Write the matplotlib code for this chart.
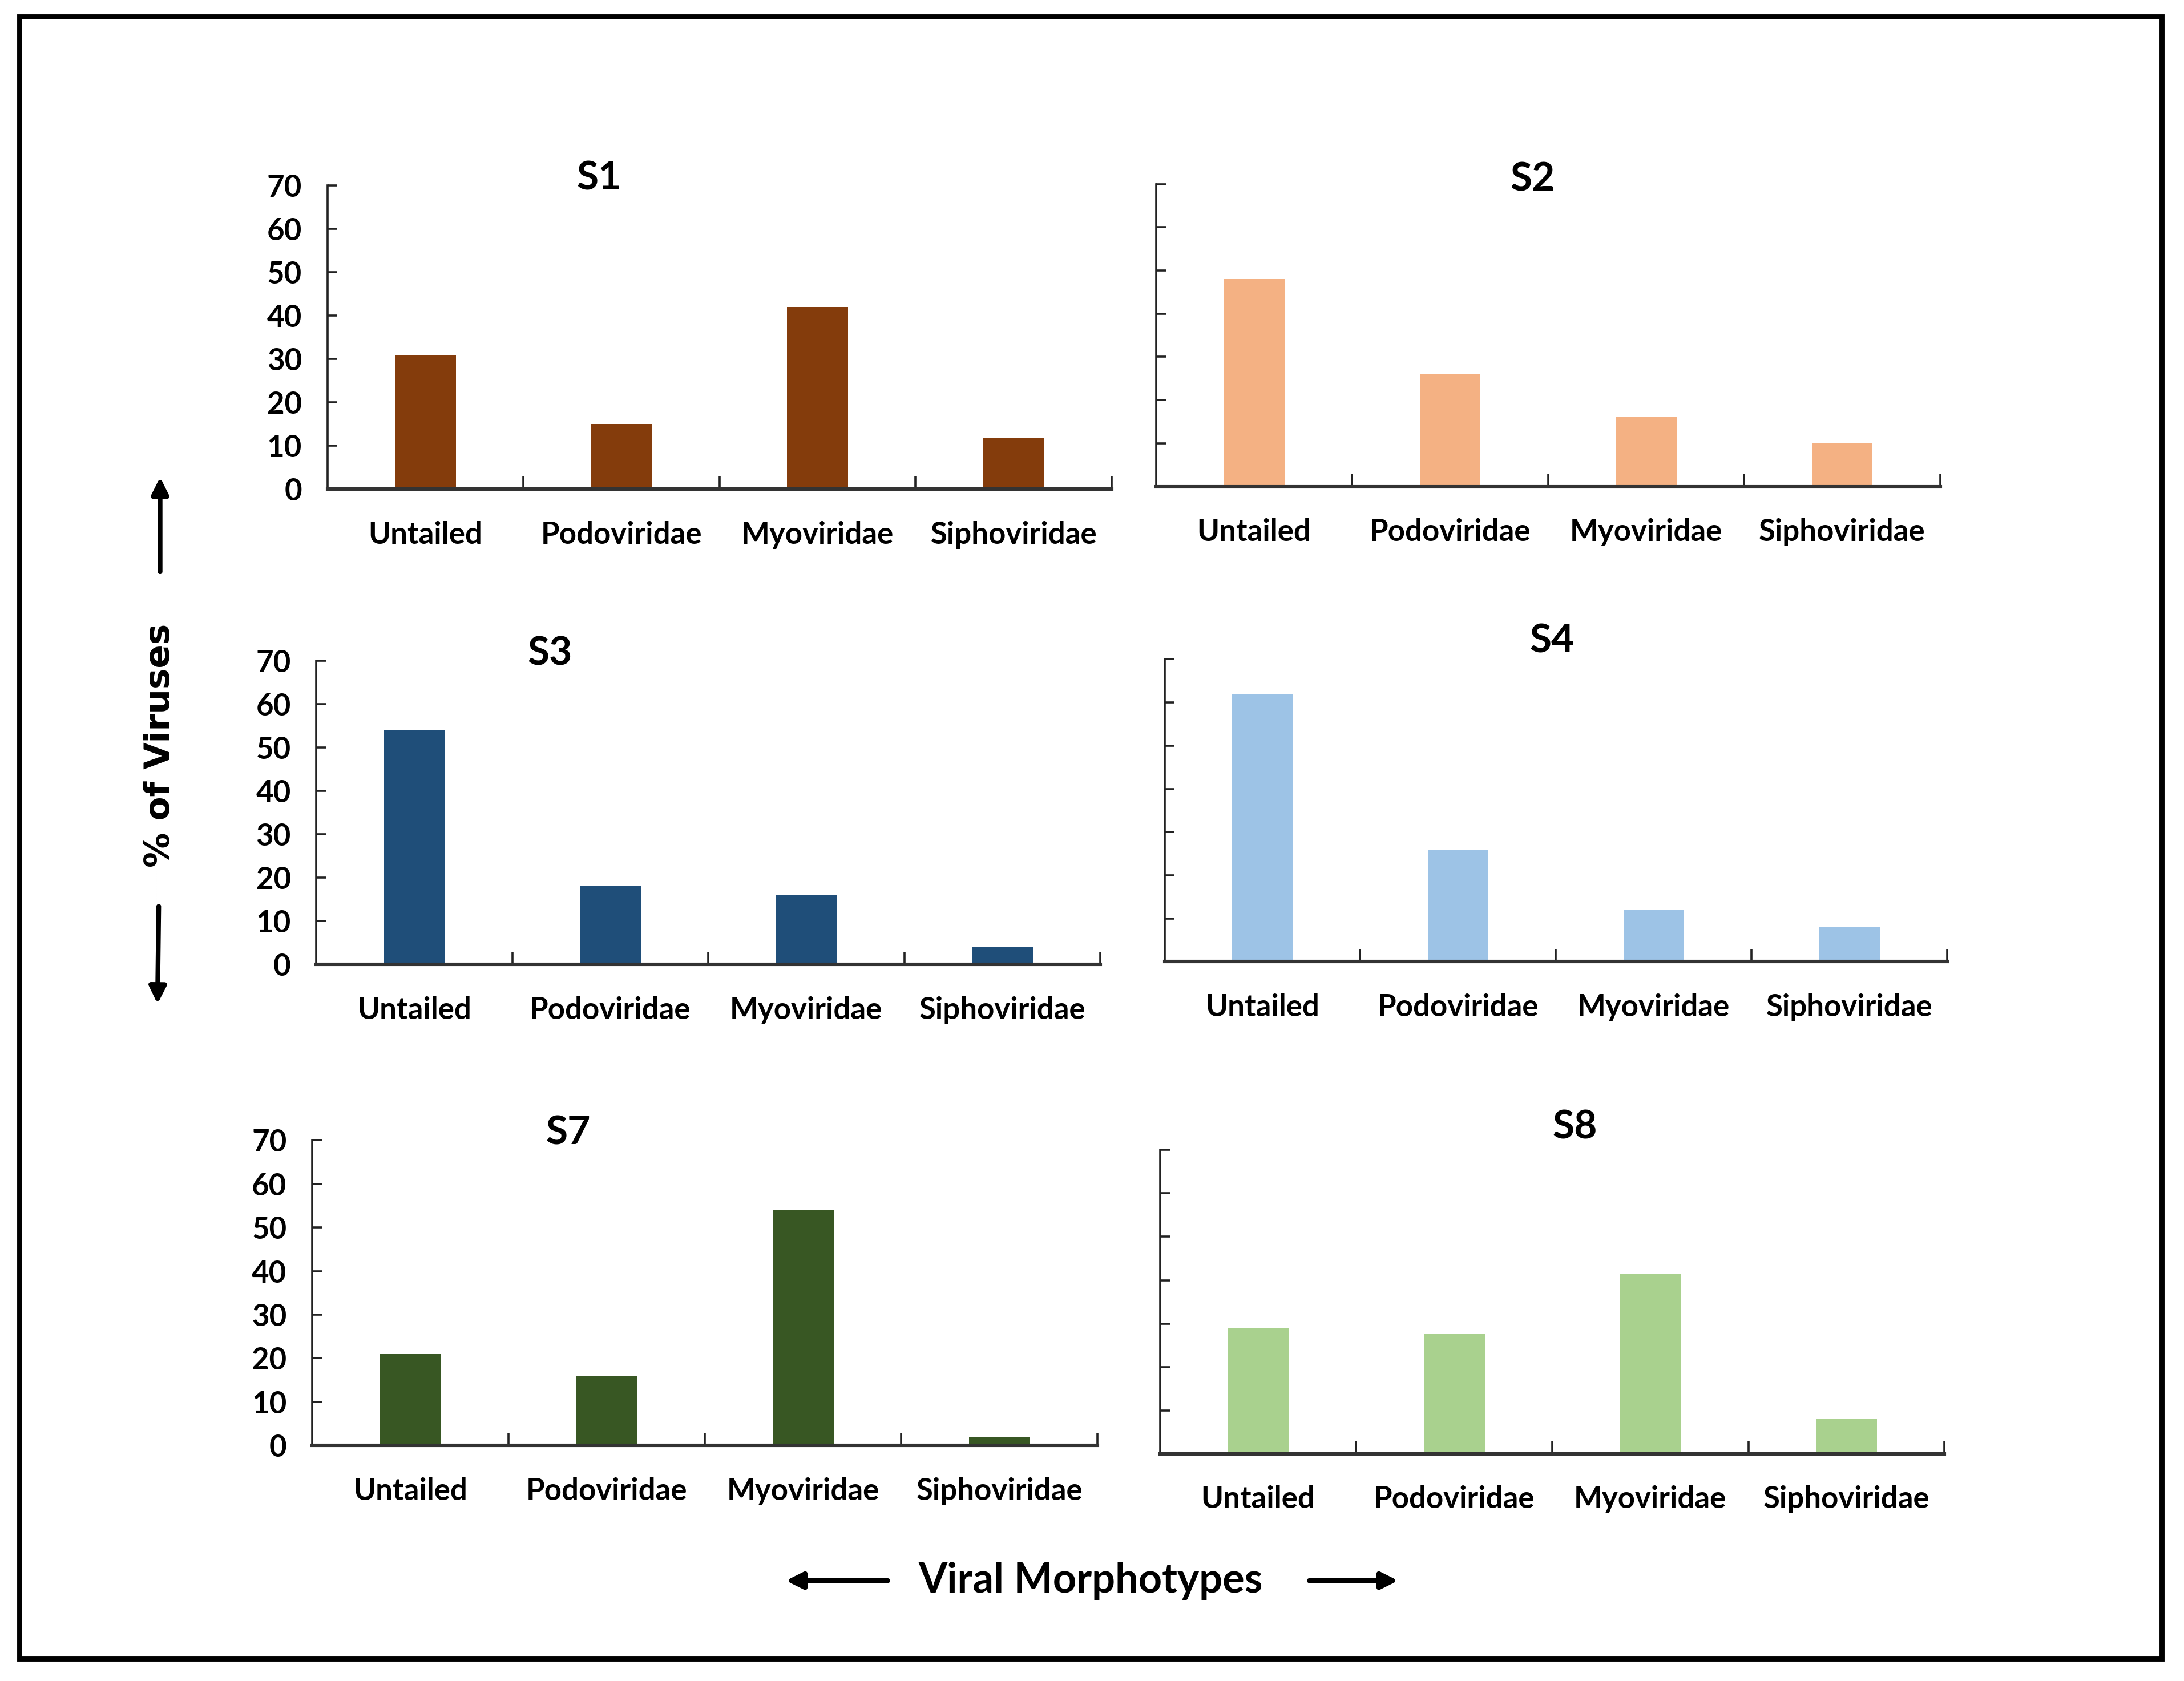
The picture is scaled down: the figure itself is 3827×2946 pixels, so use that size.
import matplotlib
matplotlib.use('Agg')
import matplotlib.pyplot as plt
from matplotlib.patches import Rectangle, FancyArrowPatch

plt.rcParams['font.family'] = ['Lato', 'DejaVu Sans']

categories = ['Untailed', 'Podoviridae', 'Myoviridae', 'Siphoviridae']
yticks = [0, 10, 20, 30, 40, 50, 60, 70]

s1 = [31, 15, 42, 11.7]
s2 = [48, 26, 16, 10]
s3 = [54, 18, 16, 4]
s4 = [62, 26, 12, 8]
s7 = [21, 16, 54, 2]
s8 = [29, 27.7, 41.5, 8]

panels = ['S1', 'S2', 'S3', 'S4', 'S7', 'S8']
series = [s1, s2, s3, s4, s7, s8]
colors = ['#843C0C', '#F4B183', '#1F4E79', '#9DC3E6', '#385723', '#A9D18E']
show_ylabels = [True, False, True, False, True, False]

# axes rects [left, bottom, width, height] and title position in axes coords
rects = [[0.1499, 0.709, 0.3591, 0.1807],
         [0.5293, 0.7106, 0.3591, 0.1799],
         [0.1448, 0.4262, 0.359, 0.1808],
         [0.5332, 0.4279, 0.3584, 0.1799],
         [0.1429, 0.1401, 0.3597, 0.1816],
         [0.5312, 0.1352, 0.3591, 0.1807]]
title_pos = [(0.346, 1.023), (0.48, 1.014), (0.298, 1.023),
             (0.495, 1.06), (0.326, 1.023), (0.529, 1.073)]

fig = plt.figure(figsize=(19.135, 14.73), dpi=200)

for i in range(6):
    ax = fig.add_axes(rects[i])
    x = range(len(categories))
    ax.bar(x, series[i], width=0.31, color=colors[i], zorder=2)
    ax.set_xlim(-0.5, 3.5)
    ax.set_ylim(0, 70)
    for sp in ['top', 'right']:
        ax.spines[sp].set_visible(False)
    ax.spines['left'].set_linewidth(1.3)
    ax.spines['left'].set_color('#222222')
    ax.spines['bottom'].set_linewidth(2.2)
    ax.spines['bottom'].set_color('#333333')
    ax.set_yticks(yticks)
    if show_ylabels[i]:
        ax.set_yticklabels([str(v) for v in yticks], fontsize=19, fontweight='bold')
    else:
        ax.set_yticklabels([])
    ax.tick_params(axis='y', direction='in', length=6, width=1.3, pad=16,
                   color='#222222')
    ax.set_xticks([0.5, 1.5, 2.5, 3.5])
    ax.set_xticklabels([])
    ax.tick_params(axis='x', which='major', direction='in', length=8, width=1.3,
                   color='#222222')
    ax.set_xticks(list(x), minor=True)
    ax.set_xticklabels(categories, minor=True, fontsize=19, fontweight='bold')
    ax.tick_params(axis='x', which='minor', length=0, pad=20)
    ax.text(title_pos[i][0], title_pos[i][1], panels[i], transform=ax.transAxes,
            ha='center', va='center', fontsize=25, fontweight='bold')

# outer frame
fig.patches.append(Rectangle((0.0089, 0.0133), 0.9809, 0.9767, transform=fig.transFigure,
                             fill=False, edgecolor='black', linewidth=3.2))

# y label with arrows
fig.text(0.0733, 0.5564, '% of Viruses', rotation=90, ha='center', va='center',
         fontsize=22, fontweight='bold', family='DejaVu Sans')
arrow = dict(arrowstyle='-|>', lw=3, color='black', mutation_scale=22)
fig.add_artist(FancyArrowPatch((0.0733, 0.658), (0.0733, 0.718),
               transform=fig.transFigure, **arrow))
fig.add_artist(FancyArrowPatch((0.0727, 0.4627), (0.0721, 0.401),
               transform=fig.transFigure, **arrow))

# x label with arrows
fig.text(0.4994, 0.0597, 'Viral Morphotypes', ha='center', va='center',
         fontsize=26, fontweight='bold')
fig.add_artist(FancyArrowPatch((0.408, 0.0597), (0.3584, 0.0597),
               transform=fig.transFigure, **arrow))
fig.add_artist(FancyArrowPatch((0.598, 0.0597), (0.6416, 0.0597),
               transform=fig.transFigure, **arrow))

fig.savefig('out.png', dpi=200, facecolor='white')
